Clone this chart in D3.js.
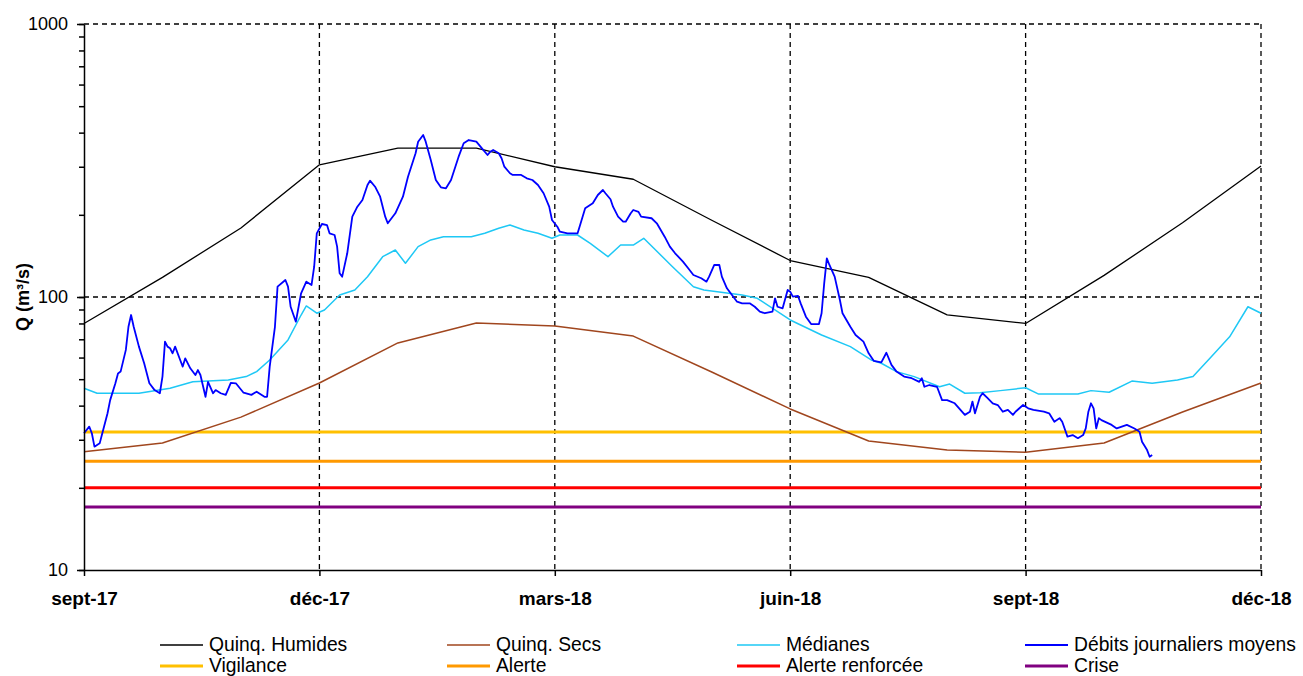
<!DOCTYPE html>
<html lang="fr">
<head>
    <meta charset="UTF-8">
    <title>Débits journaliers</title>
    <script src="https://d3js.org/d3.v7.min.js"></script>
    <style>
        body { margin: 0; background: #fff; }
        svg { font-family: "Liberation Sans", Arial, sans-serif; }
    </style>
</head>
<body>
    <svg></svg>
    <script>
        const width = 1303;
        const height = 676;
        const margin = {left: 84, right: 42, top: 24, bottom: 106};
        const w = width - margin.left - margin.right;
        const h = height - margin.top - margin.bottom;

        // valeurs mensuelles (quinquennales)
        const mois = ["2017-09-01", "2017-10-01", "2017-11-01", "2017-12-01", "2018-01-01", "2018-02-01",
            "2018-03-01", "2018-04-01", "2018-05-01", "2018-06-01", "2018-07-01", "2018-08-01",
            "2018-09-01", "2018-10-01", "2018-11-01", "2018-12-01"];
        const quinqHumides = [80, 118, 179, 305, 351, 351, 300, 270, 191, 136, 118, 86, 80, 120, 187, 302];
        const quinqSecs = [27.1, 29.2, 36.3, 48.4, 67.9, 80.3, 78.3, 71.9, 53.1, 38.9, 29.7, 27.5, 27.0, 29.2, 37.9, 48.4];

        const medianesDates = ["2017-09-01", "2017-09-06", "2017-09-22", "2017-10-04", "2017-10-13", "2017-10-27",
            "2017-11-03", "2017-11-07", "2017-11-12", "2017-11-19", "2017-11-24", "2017-11-26", "2017-11-30",
            "2017-12-03", "2017-12-09", "2017-12-15", "2017-12-20", "2017-12-26", "2017-12-31", "2018-01-04",
            "2018-01-09", "2018-01-14", "2018-01-19", "2018-01-30", "2018-02-04", "2018-02-09", "2018-02-13",
            "2018-02-18", "2018-02-23", "2018-02-28", "2018-03-03", "2018-03-10", "2018-03-15", "2018-03-22",
            "2018-03-27", "2018-04-01", "2018-04-05", "2018-04-16", "2018-04-24", "2018-04-28", "2018-05-13",
            "2018-05-19", "2018-06-01", "2018-06-13", "2018-06-24", "2018-07-02", "2018-07-06", "2018-07-12",
            "2018-07-19", "2018-07-29", "2018-08-02", "2018-08-08", "2018-08-14", "2018-08-22", "2018-09-01",
            "2018-09-06", "2018-09-21", "2018-09-26", "2018-10-03", "2018-10-12", "2018-10-20", "2018-10-30",
            "2018-11-05", "2018-11-12", "2018-11-19", "2018-11-26", "2018-12-01"];
        const medianes = [46.3, 44.4, 44.4, 46.3, 48.9, 49.7,
            51.1, 53.3, 58.8, 69.6, 85.9, 92.7, 87.2,
            89.6, 101.7, 106.1, 118.7, 140.5, 148.6, 132.9,
            152.9, 161.8, 166.3, 166.3, 171.1, 178.5, 183.5,
            176, 171.1, 164.1, 168.7, 168.7, 157.3, 140.5,
            155, 155, 164.1, 129.1, 109.1, 106.1, 101.7,
            98.9, 82.4, 72.6, 65.8, 58.8, 57.2, 53.3,
            51.1, 46.9, 48.0, 44.4, 44.6, 45.4, 46.5,
            44.1, 44.1, 45.4, 44.8, 49.2, 48.3, 49.7,
            51.1, 60.4, 71.5, 92.1, 87.2];

        // débits journaliers moyens (m3/s)
        const debitsDates = ["2017-09-01", "2017-09-03", "2017-09-04", "2017-09-05", "2017-09-07", "2017-09-08",
            "2017-09-10", "2017-09-11", "2017-09-13", "2017-09-14", "2017-09-15", "2017-09-17", "2017-09-18",
            "2017-09-19", "2017-09-20", "2017-09-22", "2017-09-24", "2017-09-26", "2017-09-28", "2017-09-30",
            "2017-10-01", "2017-10-02", "2017-10-03", "2017-10-04", "2017-10-05", "2017-10-06", "2017-10-08",
            "2017-10-09", "2017-10-10", "2017-10-12", "2017-10-14", "2017-10-15", "2017-10-16", "2017-10-18",
            "2017-10-19", "2017-10-21", "2017-10-22", "2017-10-24", "2017-10-26", "2017-10-28", "2017-10-30",
            "2017-11-02", "2017-11-05", "2017-11-07", "2017-11-10", "2017-11-11", "2017-11-12", "2017-11-14",
            "2017-11-15", "2017-11-18", "2017-11-19", "2017-11-20", "2017-11-22", "2017-11-24", "2017-11-26",
            "2017-11-28", "2017-11-29", "2017-11-30", "2017-12-02", "2017-12-04", "2017-12-05", "2017-12-07",
            "2017-12-08", "2017-12-09", "2017-12-10", "2017-12-12", "2017-12-14", "2017-12-16", "2017-12-18",
            "2017-12-20", "2017-12-21", "2017-12-23", "2017-12-25", "2017-12-27", "2017-12-28", "2017-12-31",
            "2018-01-03", "2018-01-05", "2018-01-08", "2018-01-09", "2018-01-11", "2018-01-12", "2018-01-14",
            "2018-01-16", "2018-01-18", "2018-01-20", "2018-01-22", "2018-01-25", "2018-01-27", "2018-01-29",
            "2018-02-01", "2018-02-03", "2018-02-05", "2018-02-06", "2018-02-07", "2018-02-09", "2018-02-10",
            "2018-02-11", "2018-02-13", "2018-02-14", "2018-02-17", "2018-02-19", "2018-02-21", "2018-02-23",
            "2018-02-25", "2018-02-27", "2018-02-28", "2018-03-02", "2018-03-03", "2018-03-06", "2018-03-10",
            "2018-03-11", "2018-03-13", "2018-03-16", "2018-03-18", "2018-03-20", "2018-03-21", "2018-03-23",
            "2018-03-24", "2018-03-26", "2018-03-28", "2018-03-29", "2018-03-31", "2018-04-01", "2018-04-03",
            "2018-04-04", "2018-04-08", "2018-04-10", "2018-04-13", "2018-04-15", "2018-04-17", "2018-04-20",
            "2018-04-22", "2018-04-24", "2018-04-27", "2018-04-29", "2018-04-30", "2018-05-02", "2018-05-04",
            "2018-05-05", "2018-05-07", "2018-05-09", "2018-05-11", "2018-05-13", "2018-05-16", "2018-05-18",
            "2018-05-20", "2018-05-22", "2018-05-25", "2018-05-26", "2018-05-27", "2018-05-29", "2018-05-31",
            "2018-06-01", "2018-06-02", "2018-06-04", "2018-06-05", "2018-06-07", "2018-06-09", "2018-06-12",
            "2018-06-13", "2018-06-14", "2018-06-15", "2018-06-16", "2018-06-18", "2018-06-20", "2018-06-21",
            "2018-06-24", "2018-06-26", "2018-06-29", "2018-07-01", "2018-07-03", "2018-07-06", "2018-07-08",
            "2018-07-10", "2018-07-12", "2018-07-15", "2018-07-18", "2018-07-21", "2018-07-22", "2018-07-23",
            "2018-07-25", "2018-07-28", "2018-07-30", "2018-08-01", "2018-08-04", "2018-08-08", "2018-08-10",
            "2018-08-11", "2018-08-12", "2018-08-14", "2018-08-15", "2018-08-17", "2018-08-19", "2018-08-21",
            "2018-08-23", "2018-08-25", "2018-08-27", "2018-08-28", "2018-08-31", "2018-09-02", "2018-09-04",
            "2018-09-08", "2018-09-10", "2018-09-12", "2018-09-14", "2018-09-15", "2018-09-17", "2018-09-19",
            "2018-09-21", "2018-09-23", "2018-09-24", "2018-09-25", "2018-09-26", "2018-09-27", "2018-09-28",
            "2018-09-29", "2018-09-30", "2018-10-04", "2018-10-06", "2018-10-10", "2018-10-13", "2018-10-15",
            "2018-10-16", "2018-10-18", "2018-10-19", "2018-10-20"];
        const debits = [31.7, 33.5, 31.7, 28.3, 29.1, 31.7,
            37.5, 41.9, 48.3, 52.5, 53.3, 64.0, 77.8,
            85.9, 77.8, 65.8, 57.2, 48.3, 45.6, 44.4,
            51.1, 68.6, 65.8, 64.9, 62.2, 65.8, 58.8,
            55.6, 59.6, 54.8, 51.8, 54.0, 51.8, 43.1,
            48.9, 44.4, 45.6, 44.4, 43.8, 48.5, 48.3,
            44.6, 43.8, 45.0, 43.1, 43.1, 55.6, 77.8,
            109.1, 115.4, 109.1, 92.1, 81.2, 103.2, 113.8,
            110.7, 129.1, 171.1, 185.1, 183.5, 171.1, 168.7,
            152.9, 122.1, 118.7, 144.6, 196.9, 214.2, 226.7,
            257.2, 266.7, 253.5, 233.1, 196.9, 186.2, 202.6,
            233.1, 275.9, 336.1, 370.6, 392.2, 370.6, 317.6,
            268.3, 252.2, 250.1, 268.3, 326.6, 365.6, 375.9,
            370.6, 350.5, 331.3, 340.7, 345.5, 336.1, 322.3,
            300.1, 283.9, 279.9, 279.9, 272.2, 268.3, 257.2,
            239.9, 214.2, 191.4, 180.9, 173.4, 171.1, 171.1,
            183.5, 211.3, 220.4, 236.4, 246.6, 239.9, 228,
            214.2, 196.9, 188.7, 188.7, 202.6, 208.3, 205.1,
            196.9, 194.3, 186.2, 166.3, 152.9, 144.6, 134.7,
            127.4, 120.4, 117.1, 113.8, 118.7, 131.0, 131.0,
            118.7, 107.6, 101.7, 96.1, 94.8, 94.8, 92.1,
            88.4, 87.2, 88.4, 98.9, 92.1, 90.9, 106.1,
            104.6, 100.3, 100.9, 94.8, 84.7, 79.6, 79.6,
            87.2, 112.2, 138.6, 131.0, 118.7, 97.5, 87.2,
            77.8, 72.6, 68.6, 62.2, 58.4, 57.6, 62.5,
            56.4, 53.3, 51.1, 50.4, 48.9, 50.4, 46.9,
            47.6, 46.9, 41.9, 41.9, 40.8, 37.0, 38.0,
            41.4, 37.5, 43.1, 44.4, 42.6, 40.8, 40.2,
            38.0, 38.6, 37.0, 38.0, 40.2, 39.1, 38.6,
            38.0, 37.5, 34.9, 36.0, 34.9, 30.8, 31.2,
            30.4, 31.2, 33.0, 38.0, 40.8, 39.1, 33.0,
            36.0, 35.4, 34.0, 33.0, 34.0, 33.0, 32.1,
            29.5, 27.5, 26.0, 26.4];

        // seuils de restriction (m3/s)
        const seuilNoms = ["Vigilance", "Alerte", "Alerte renforcée", "Crise"];
        const seuils = [32, 25, 20, 17];

        const xTicks = ["2017-09-01", "2017-12-01", "2018-03-01", "2018-06-01", "2018-09-01", "2018-12-01"];
        const xLabels = ["sept-17", "déc-17", "mars-18", "juin-18", "sept-18", "déc-18"];
        const yTicks = [10, 100, 1000];

        const parse = d3.utcParse("%Y-%m-%d");
        const moisD = mois.map(parse);

        const svg = d3.select("svg")
            .attr("width", width)
            .attr("height", height);

        // axe des dates : chaque mois a la même largeur
        const x = d3.scaleUtc()
            .domain(moisD)
            .range(moisD.map((d, i) => margin.left + i * w / (moisD.length - 1)));

        const y = d3.scaleLog()
            .domain([10, 1000])
            .range([margin.top + h, margin.top]);

        const line = d3.line()
            .x(d => x(d[0]))
            .y(d => y(d[1]));

        // quadrillage pointillé
        const grid = svg.append("g")
            .attr("stroke", "#000")
            .attr("stroke-width", 1.3)
            .attr("stroke-dasharray", "5,4");
        grid.selectAll(".gx")
            .data(xTicks.slice(1))
            .enter()
            .append("line")
                .attr("x1", d => x(parse(d)))
                .attr("x2", d => x(parse(d)))
                .attr("y1", margin.top)
                .attr("y2", margin.top + h);
        grid.selectAll(".gy")
            .data(yTicks.slice(1))
            .enter()
            .append("line")
                .attr("x1", margin.left)
                .attr("x2", margin.left + w)
                .attr("y1", d => y(d))
                .attr("y2", d => y(d));

        const x0 = moisD[0], x1 = moisD[moisD.length - 1];
        const seuilCouleurs = ["#ffc000", "#ff9900", "#ff0000", "#800080"];

        svg.append("g")
            .selectAll("path")
            .data(seuils)
            .enter()
            .append("path")
                .attr("d", v => line([[x0, v], [x1, v]]))
                .attr("fill", "none")
                .attr("stroke", (v, i) => seuilCouleurs[i])
                .attr("stroke-width", 3);

        const series = [
            {name: "Quinq. Humides", color: "#000000", width: 1.3, values: mois.map((d, i) => [parse(d), quinqHumides[i]])},
            {name: "Quinq. Secs", color: "#a0461e", width: 1.5, values: mois.map((d, i) => [parse(d), quinqSecs[i]])},
            {name: "Médianes", color: "#1ec8f5", width: 1.5, values: medianesDates.map((d, i) => [parse(d), medianes[i]])},
            {name: "Débits journaliers moyens", color: "#0000ff", width: 1.8, values: debitsDates.map((d, i) => [parse(d), debits[i]])}
        ];

        svg.append("g")
            .selectAll("path")
            .data(series)
            .enter()
            .append("path")
                .attr("d", s => line(s.values))
                .attr("fill", "none")
                .attr("stroke", s => s.color)
                .attr("stroke-width", s => s.width)
                .attr("stroke-linejoin", "round");

        // axe Y (log)
        const yAxisMinor = svg.append("g")
            .attr("transform", `translate(${margin.left}, 0)`)
            .call(d3.axisLeft(y).tickValues(y.ticks()).tickFormat("").tickSize(5).tickSizeOuter(0));
        const yAxis = svg.append("g")
            .attr("transform", `translate(${margin.left}, 0)`)
            .call(d3.axisLeft(y).tickValues(yTicks).tickFormat(d3.format("d")).tickSize(7).tickPadding(9).tickSizeOuter(0));
        yAxis.selectAll("text")
            .attr("font-size", 18)
            .attr("fill", "#000");

        // axe X
        const xAxis = svg.append("g")
            .attr("transform", `translate(0, ${margin.top + h})`)
            .call(d3.axisBottom(x).tickValues(xTicks.map(parse)).tickFormat((d, i) => xLabels[i]).tickSize(6).tickPadding(16).tickSizeOuter(0));
        xAxis.selectAll("text")
            .attr("font-size", 19)
            .attr("font-weight", "bold")
            .attr("fill", "#000");

        svg.selectAll(".domain, .tick line")
            .attr("stroke", "#000")
            .attr("stroke-width", 1.5);
        yAxisMinor.select(".domain").remove();

        svg.append("text")
            .attr("transform", `translate(23, ${margin.top + h / 2}) rotate(-90)`)
            .attr("text-anchor", "middle")
            .attr("dominant-baseline", "central")
            .attr("font-size", 18)
            .attr("font-weight", "bold")
            .text("Q (m³/s)");

        // légende
        const legend = [
            ...series.map(s => ({name: s.name, color: s.color, width: s.width})),
            ...seuilNoms.map((n, i) => ({name: n, color: seuilCouleurs[i], width: 3}))
        ];
        const colX = [160, 447, 737, 1025];
        const rowY = [645, 666];

        const leg = svg.append("g")
            .selectAll("g")
            .data(legend)
            .enter()
            .append("g")
                .attr("transform", (d, i) => `translate(${colX[i % 4]}, ${rowY[Math.floor(i / 4)]})`);
        leg.append("line")
            .attr("x1", 0)
            .attr("x2", 43)
            .attr("stroke", d => d.color)
            .attr("stroke-width", d => d.width);
        leg.append("text")
            .attr("x", 49)
            .attr("y", 6)
            .attr("font-size", 19.3)
            .text(d => d.name);
    </script>
</body>
</html>
